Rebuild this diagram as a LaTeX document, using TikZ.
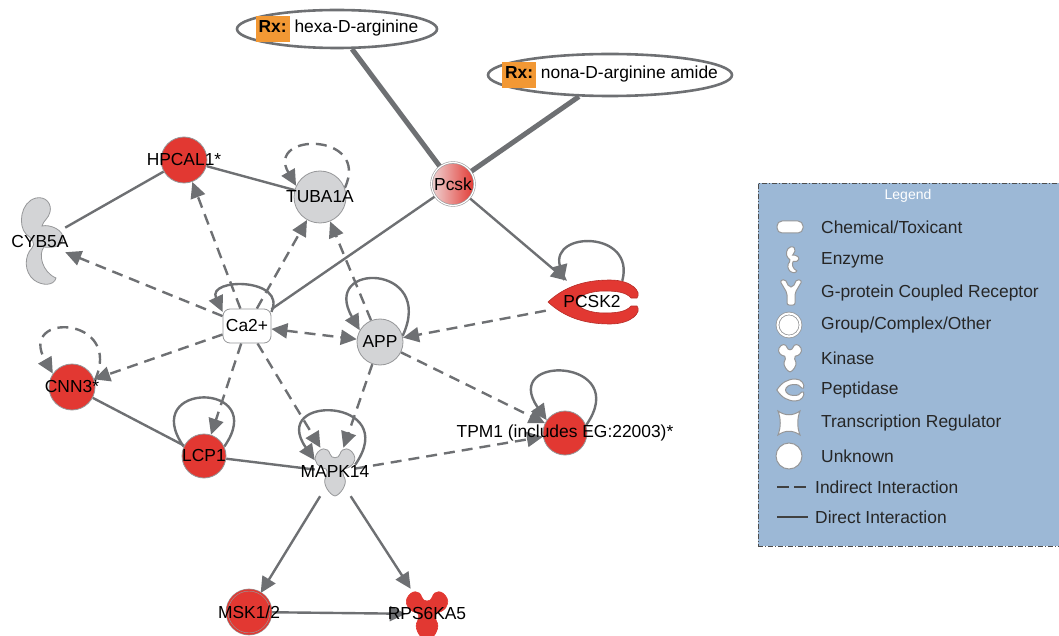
\documentclass[tikz,border=0pt]{standalone}
\usepackage{fontspec}
\setmainfont{Liberation Sans}
\usetikzlibrary{arrows.meta,positioning,shapes.geometric,backgrounds}

\definecolor{genered}{RGB}{226,56,50}
\definecolor{genegray}{RGB}{211,212,214}
\definecolor{nodeline}{RGB}{150,151,153}
\definecolor{linkgray}{RGB}{110,112,115}
\definecolor{rxorange}{RGB}{242,152,52}
\definecolor{legendblue}{RGB}{156,184,214}
\definecolor{pcskpink}{RGB}{238,212,212}
\newcommand{\rxtag}{\colorbox{rxorange}{\strut\bfseries Rx:}}

\begin{document}
\begin{tikzpicture}[x=1pt, y=1pt, font=\fontsize{17.4}{20}\selectfont,
  >={Triangle[length=16pt,width=15pt]},
  link/.style={draw=linkgray, line width=2.4pt},
  indirect/.style={link, dash pattern=on 11pt off 7pt},
  druglink/.style={draw=linkgray, line width=5pt},
  gene/.style={circle, draw=nodeline, line width=0.8pt, inner sep=0pt, minimum size=46pt},
  hidden/.style={inner sep=0pt},
  drugbox/.style={ellipse, draw=linkgray, line width=2.6pt, fill=white, inner sep=0pt},
  icon/.style={fill=white, draw=nodeline, line width=1pt, inner sep=0pt},
  keytext/.style={anchor=west, inner sep=0pt, text=black!85},
  kinase/.pic={\path[pic actions, yscale=-1] (-19,-17) .. controls (-15,-25) and (-7,-25) .. (-5,-18)
    .. controls (-4,-13) and (4,-13) .. (5,-18) .. controls (7,-25) and (15,-25) .. (19,-17)
    .. controls (22,-10) and (16,-4) .. (9,-3) .. controls (7,0) and (8,3) .. (10,7)
    .. controls (12,13) and (5,23) .. (0,24) .. controls (-5,23) and (-12,13) .. (-10,7)
    .. controls (-8,3) and (-7,0) .. (-9,-3) .. controls (-16,-4) and (-22,-10) .. (-19,-17) -- cycle;},
  enzyme/.pic={\path[pic actions, yscale=-1] (-4,-44) .. controls (6,-46) and (12,-38) .. (10,-30)
    .. controls (9,-24) and (3,-21) .. (2,-16) .. controls (10,-18) and (24,-12) .. (23,-3)
    .. controls (22,5) and (12,6) .. (4,5) .. controls (-2,12) and (2,30) .. (16,36)
    .. controls (14,44) and (2,44) .. (-6,38) .. controls (-16,30) and (-16,14) .. (-8,6)
    .. controls (-4,2) and (-8,-4) .. (-14,-8) .. controls (-22,-16) and (-20,-40) .. (-4,-44) -- cycle;},
  peptidase/.pic={\path[pic actions, yscale=-1] (-44,0) .. controls (-28,-15) and (-8,-22) .. (18,-22)
    .. controls (40,-22) and (50,-10) .. (45,-4) -- (39,-4) .. controls (34,-10) and (24,-11) .. (12,-11)
    .. controls (-2,-11) and (-15,-6) .. (-15,0) .. controls (-15,6) and (-2,11) .. (12,11)
    .. controls (24,11) and (34,10) .. (39,4) -- (45,4) .. controls (50,10) and (40,22) .. (18,22)
    .. controls (-8,22) and (-28,15) .. (-44,0) -- cycle;},
  gpcr/.pic={\path[pic actions, yscale=-1, rounded corners=2pt] (-11,-12) -- (-6,-14) -- (-2,-6) -- (2,-6)
    -- (6,-14) -- (11,-12) -- (4,0) -- (4,12) -- (-4,12) -- (-4,0) -- cycle;},
  regulator/.pic={\path[pic actions, yscale=-1] (-11,-12) .. controls (-4,-7) and (4,-7) .. (11,-12)
    .. controls (8,-4) and (8,4) .. (11,12) .. controls (4,7) and (-4,7) .. (-11,12)
    .. controls (-8,4) and (-8,-4) .. (-11,-12) -- cycle;}
]
\useasboundingbox (0,0) rectangle (1059,-636);

% drugs and genes
\node[drugbox, minimum width=200pt, minimum height=38pt, label={center:{\rxtag\ hexa-D-arginine}}] (hexa) at (337,-29) {};
\node[drugbox, minimum width=244pt, minimum height=42pt, label={center:{\rxtag\ nona-D-arginine amide}}] (nona) at (610,-75) {};
\node[gene, minimum size=43pt, left color=pcskpink, right color=genered, double=white, double distance=1.2pt, line width=0.6pt, label=center:Pcsk] (pcsk) at (453,-184) {};
\node[gene, fill=genered, label=center:HPCAL1*] (hpcal) at (184,-160) {};
\node[gene, fill=genegray, minimum size=52pt, label=center:TUBA1A] (tuba) at (320,-197) {};
\pic[fill=genegray, draw=nodeline, line width=0.8pt] at (40,-242) {enzyme};
\node[hidden, minimum width=50pt, minimum height=80pt, label=center:CYB5A] (cyb) at (40,-242) {};
\node[draw=nodeline, line width=0.8pt, fill=white, rounded corners=7pt, minimum width=48pt, minimum height=34pt, inner sep=1pt] (ca) at (247,-326) {Ca2+};
\node[gene, fill=genegray, label=center:APP] (app) at (380,-342) {};
\pic[fill=genered, draw=genered!80!black, line width=0.6pt] at (592,-302) {peptidase};
\node[hidden, minimum width=92pt, minimum height=42pt, label=center:PCSK2] (pcsk2) at (592,-302) {};
\node[gene, fill=genered, label=center:CNN3*] (cnn) at (72,-387) {};
\node[gene, fill=genered, minimum size=44pt, label=center:LCP1] (lcp) at (204,-456) {};
\pic[fill=genegray, draw=nodeline, line width=0.8pt] at (335,-472) {kinase};
\node[hidden, minimum width=40pt, minimum height=48pt, label=center:MAPK14] (mapk) at (335,-472) {};
\node[gene, fill=genered, minimum size=44pt, label={center:{TPM1 (includes EG:22003)*}}] (tpm) at (565,-433) {};
\node[gene, fill=genered, minimum size=44pt, double=genered, double distance=1.5pt, line width=0.6pt, label=center:MSK1/2] (msk) at (249,-612) {};
\pic[fill=genered, draw=genered, line width=0.6pt, scale=1.05] at (427,-616) {kinase};
\node[hidden, minimum width=42pt, minimum height=50pt, label=center:RPS6KA5] (rps) at (427,-614) {};

% connectors
\begin{scope}[on background layer]
\draw[druglink] (hexa) -- (pcsk);
\draw[druglink] (nona) -- (pcsk);
\draw[link] (hpcal) -- (cyb);
\draw[link] (hpcal) -- (tuba);
\draw[link] (ca) -- (pcsk);
\draw[link,->] (pcsk) -- (pcsk2);
\draw[indirect,->] (ca) -- (hpcal);
\draw[indirect,->] (ca) -- (tuba);
\draw[indirect,->] (app) -- (tuba);
\draw[indirect,->] (ca) -- (cyb);
\draw[indirect,<->] (ca) -- (app);
\draw[indirect,->] (ca) -- (cnn);
\draw[indirect,->] (ca) -- (lcp);
\draw[indirect,->] (ca) -- (mapk);
\draw[indirect,->] (app) -- (mapk);
\draw[indirect,->] (pcsk2) -- (app);
\draw[indirect,->] (app) -- (tpm);
\draw[indirect,->] (mapk) -- (tpm);
\draw[link] (cnn) -- (lcp);
\draw[link] (lcp) -- (mapk);
\draw[link,->] (mapk) -- (msk);
\draw[link,->] (mapk) -- (rps);
\draw[link,->] (msk) -- (rps);
\draw[indirect,->] (tuba.20) to[out=65,in=120,min distance=62pt] (tuba.155);
\draw[link,->] (ca.30) to[out=65,in=115,min distance=38pt] (ca.150);
\draw[link,->] (app.15) to[out=65,in=120,min distance=80pt] (app.150);
\draw[link,->] (pcsk2.35) to[out=75,in=105,min distance=52pt] (pcsk2.143);
\draw[indirect,->] (cnn.15) to[out=65,in=120,min distance=72pt] (cnn.145);
\draw[link] (lcp.25) to[out=55,in=125,min distance=80pt] (lcp.155);
\draw[link,->] (mapk.20) to[out=55,in=125,min distance=82pt] (mapk.150);
\draw[link,->] (tpm.20) to[out=55,in=125,min distance=82pt] (tpm.145);
\end{scope}

% legend
\node[draw=black!70, dash pattern=on 5pt off 2pt on 1pt off 2pt, line width=0.8pt, fill=legendblue, minimum width=308pt, minimum height=363pt, anchor=north west] (legend) at (758,-183) {};
\node[text=white, font=\fontsize{14}{16}\selectfont] (legendtitle) at (908,-196) {Legend};
\node[icon, rounded corners=5pt, minimum width=26pt, minimum height=12pt] (chemicon) at (790,-227) {};
\node[keytext] (chemtext) at (821,-227) {Chemical/Toxicant};
\pic[icon, scale=0.3] at (792,-260) {enzyme};
\node[keytext] (enzymetext) at (821,-260) {Enzyme};
\pic[icon] at (791,-293) {gpcr};
\node[keytext] (gpcrtext) at (821,-293) {G-protein Coupled Receptor};
\node[icon, circle, minimum size=23pt, double=white, double distance=2pt, line width=0.8pt] (groupicon) at (789,-325) {};
\node[keytext] (grouptext) at (821,-325) {Group/Complex/Other};
\pic[icon, scale=0.58] at (790,-358) {kinase};
\node[keytext] (kinasetext) at (821,-358) {Kinase};
\pic[icon, xscale=0.3, yscale=0.5] at (790,-390) {peptidase};
\node[keytext] (peptidasetext) at (821,-390) {Peptidase};
\pic[icon] at (789,-423) {regulator};
\node[keytext] (regulatortext) at (821,-423) {Transcription Regulator};
\node[icon, circle, minimum size=26pt] (unknownicon) at (789,-456) {};
\node[keytext] (unknowntext) at (821,-456) {Unknown};
\coordinate (indirect a) at (777,-487);
\coordinate (indirect b) at (808,-487);
\draw[black!75, line width=2.6pt, dash pattern=on 12pt off 5pt] (indirect a) -- (indirect b);
\node[keytext] (indirecttext) at (815,-487) {Indirect Interaction};
\coordinate (direct a) at (777,-517);
\coordinate (direct b) at (808,-517);
\draw[black!75, line width=2.6pt] (direct a) -- (direct b);
\node[keytext] (directtext) at (815,-517) {Direct Interaction};
\end{tikzpicture}
\end{document}
